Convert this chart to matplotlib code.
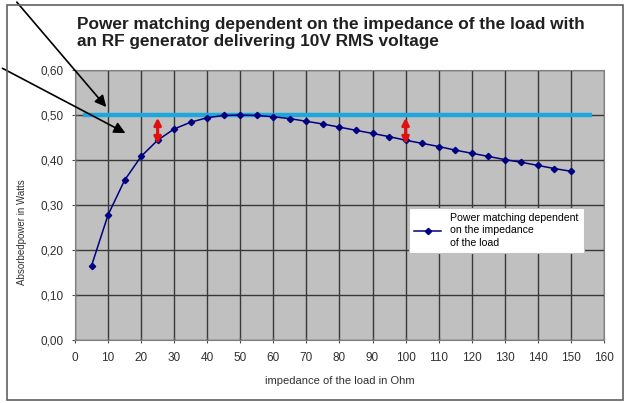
import matplotlib
matplotlib.use("Agg")
import matplotlib.pyplot as plt
from matplotlib.patches import Rectangle
from matplotlib.lines import Line2D

plt.rcParams["font.family"] = ["Liberation Sans", "DejaVu Sans"]

# load impedance in Ohm and absorbed power in W
impedance = [5, 10, 15, 20, 25, 30, 35, 40, 45, 50, 55, 60, 65, 70, 75,
             80, 85, 90, 95, 100, 105, 110, 115, 120, 125, 130, 135, 140, 145, 150]
power = [0.165, 0.278, 0.355, 0.408, 0.444, 0.469, 0.484, 0.494, 0.499, 0.500,
         0.499, 0.496, 0.492, 0.486, 0.480, 0.473, 0.466, 0.459, 0.452, 0.444,
         0.437, 0.430, 0.422, 0.415, 0.408, 0.401, 0.395, 0.388, 0.381, 0.375]

# maximum power line
max_x = [2.5, 156.5]
max_y = [0.50, 0.50]

# red double arrows showing the gap to the maximum
gap_x = [25, 100]
gap_low = [0.435, 0.435]
gap_high = [0.494, 0.494]

x_ticks = list(range(0, 161, 10))
y_ticks = [0.0, 0.1, 0.2, 0.3, 0.4, 0.5, 0.6]
y_labels = ["0,00", "0,10", "0,20", "0,30", "0,40", "0,50", "0,60"]

fig = plt.figure(figsize=(6.26, 4.03), dpi=100)
ax = fig.add_axes([0.1198, 0.1563, 0.845, 0.67])
ax.set_facecolor("#c0c0c0")

ax.plot(max_x, max_y, color="#1ea7dc", lw=3.2, solid_capstyle="butt", zorder=3)
ax.plot(impedance, power, color="#000080", lw=1.1, marker="D", markersize=3.2, zorder=4)

# each double arrow drawn as two heads going out from the middle
for x, lo, hi in zip(gap_x, gap_low, gap_high):
    mid = (lo + hi) / 2
    for end in (lo, hi):
        ax.annotate("", xy=(x, end), xytext=(x, mid),
                    arrowprops=dict(arrowstyle="-|>", color="#e01010", lw=2.2, mutation_scale=10,
                                    shrinkA=0, shrinkB=0),
                    zorder=6)

ax.set_xlim(0, 160)
ax.set_ylim(0, 0.6)
ax.set_xticks(x_ticks)
ax.set_yticks(y_ticks)
ax.set_yticklabels(y_labels)
ax.grid(True, color="#383838", lw=1.0)
ax.set_axisbelow(True)
for s in ax.spines.values():
    s.set_color("#808080")
ax.tick_params(direction="inout", length=5, color="#505050", labelsize=8.5,
               labelcolor="#303030", pad=6)

ax.set_xlabel("impedance of the load in Ohm", fontsize=8, color="#303030", labelpad=9)
ax.set_ylabel("Absorbedpower in Watts", fontsize=7, color="#303030")
ax.yaxis.set_label_coords(-0.09, 0.40)

fig.text(77 / 626, 1 - 33 / 403, "Power matching dependent on the impedance of the load with\n"
         "an RF generator delivering 10V RMS voltage",
         ha="left", va="center", fontsize=12.4, fontweight="bold", color="#202020",
         linespacing=1.2)

handle = Line2D([], [], color="#000080", lw=1.1, marker="D", markersize=3.2)
leg = ax.legend([handle], ["Power matching dependent\non the impedance\nof the load"],
                loc="upper left", bbox_to_anchor=(0.621, 0.51), fontsize=7.6,
                frameon=True, fancybox=False, framealpha=1, edgecolor="#c0c0c0",
                handlelength=2.6, borderpad=0.5, labelspacing=0.2)
leg.get_frame().set_linewidth(0.8)
leg.get_texts()[0].set_linespacing(1.3)

# frame around the whole chart
fig.patches.append(Rectangle((7 / 626, 3 / 403), 616 / 626, 395 / 403, transform=fig.transFigure,
                             fill=False, edgecolor="#606060", lw=1.2))

# black pointer arrows coming from outside
ax.annotate("", xy=(10, 0.513), xytext=(15 / 626, 1.0), textcoords="figure fraction",
            arrowprops=dict(arrowstyle="-|>", color="black", lw=1.2, mutation_scale=17),
            annotation_clip=False, zorder=6)
ax.annotate("", xy=(16, 0.457), xytext=(0.0, 1 - 67 / 403), textcoords="figure fraction",
            arrowprops=dict(arrowstyle="-|>", color="black", lw=1.2, mutation_scale=17),
            annotation_clip=False, zorder=6)

fig.savefig("out.png", dpi=100, facecolor="white")
